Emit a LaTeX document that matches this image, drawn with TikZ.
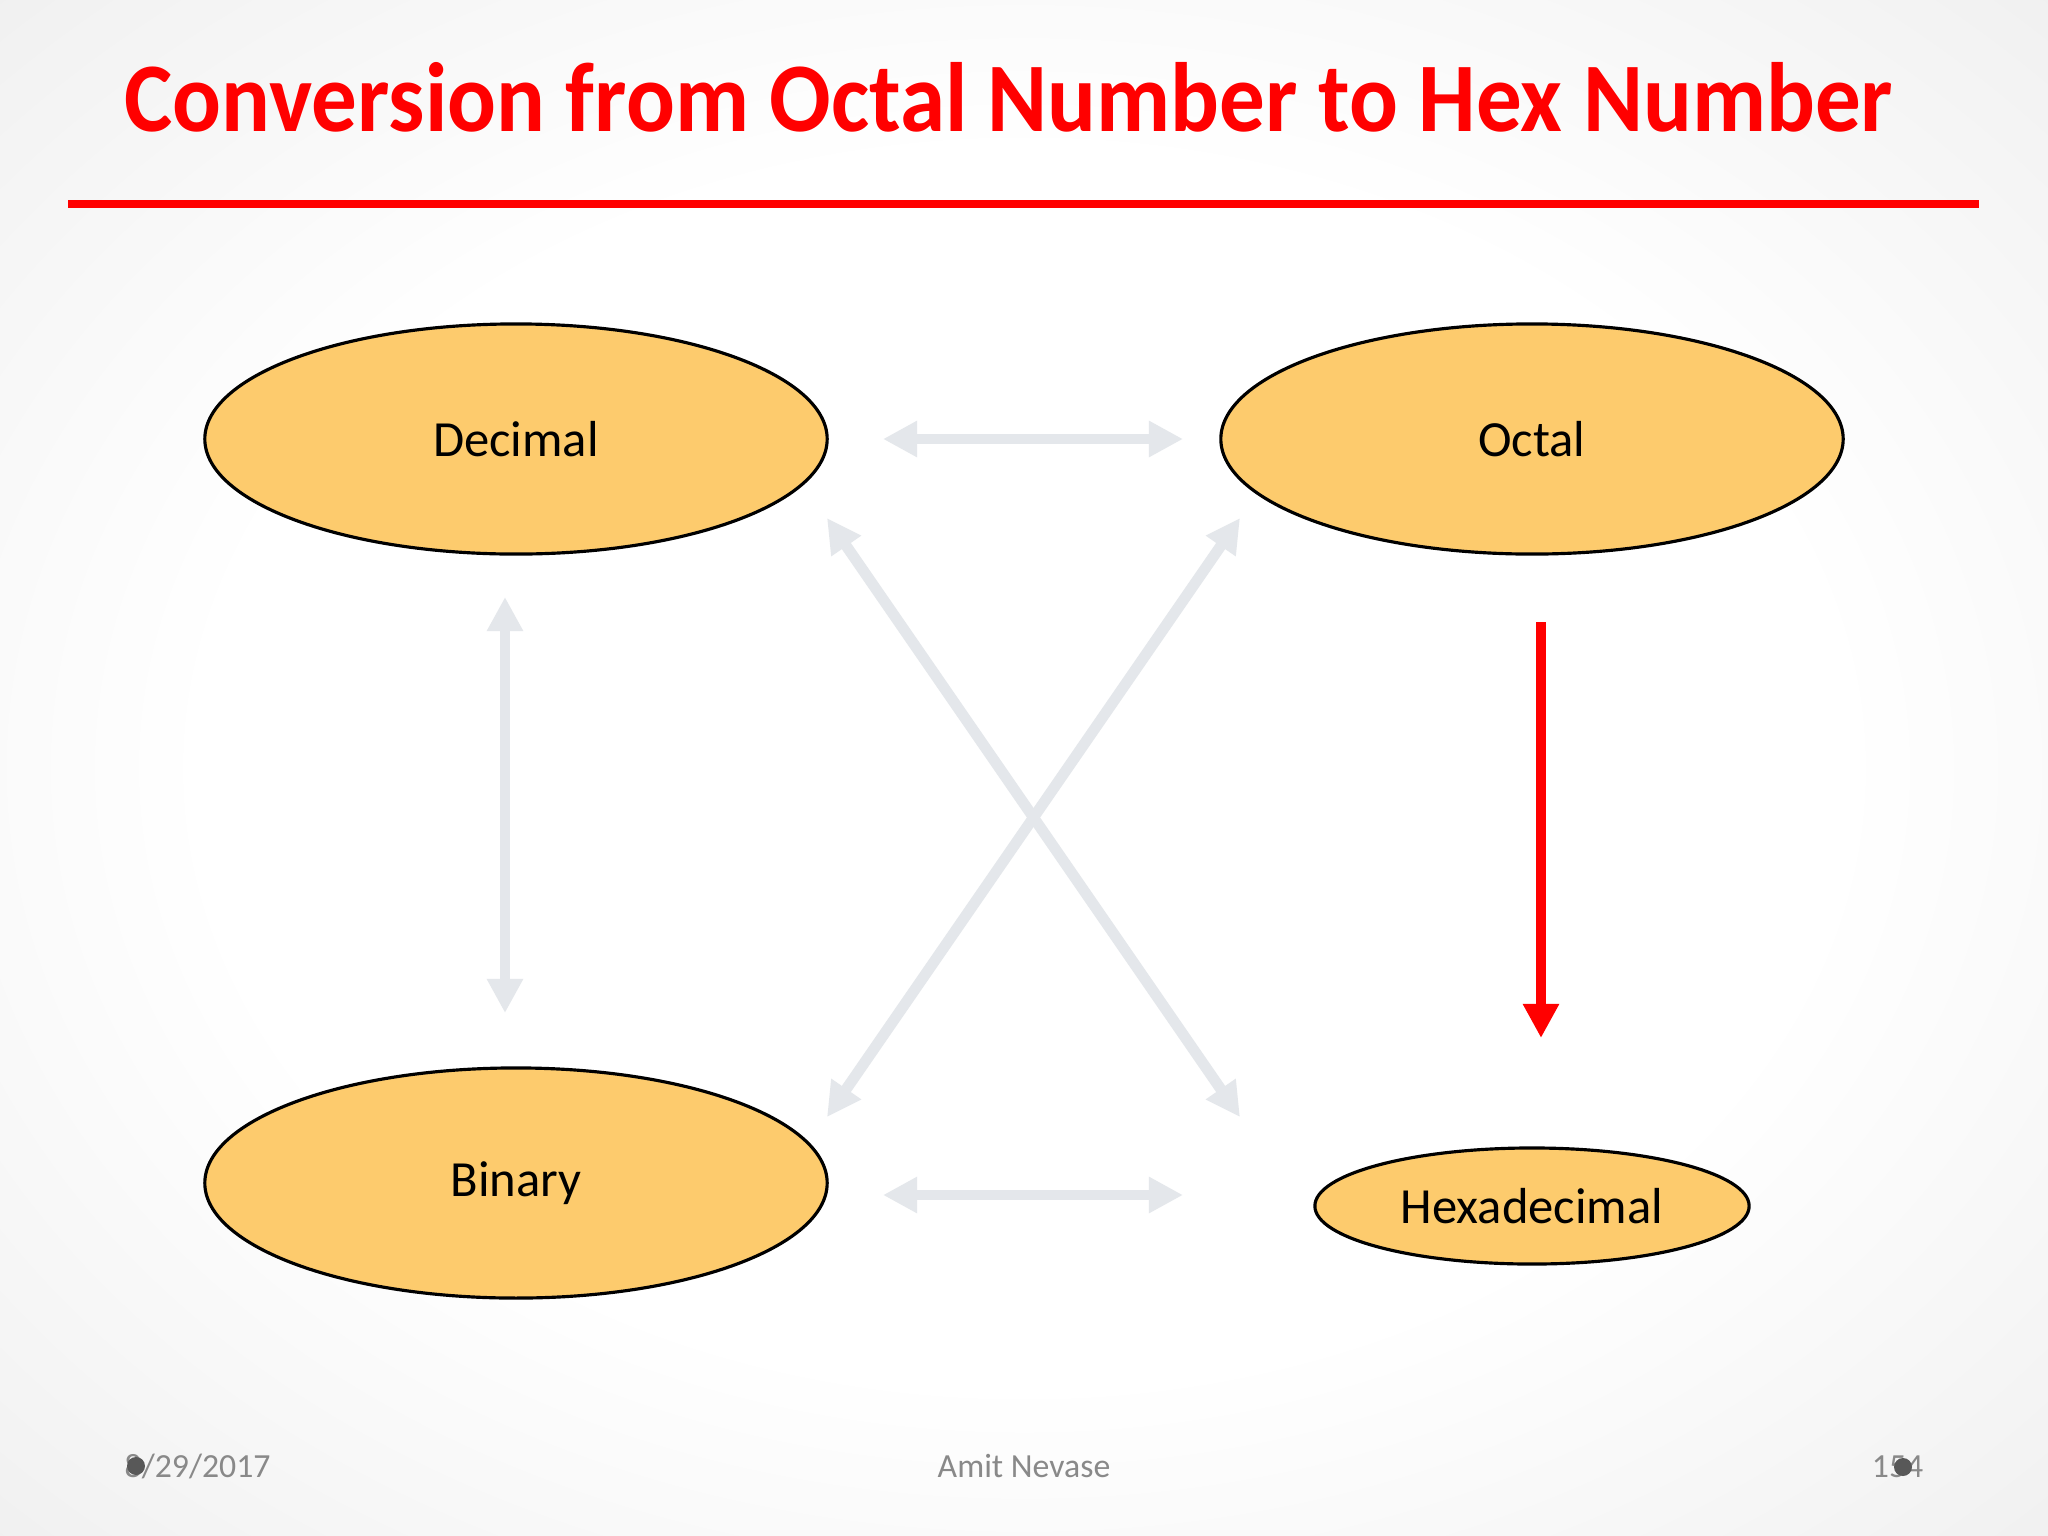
\documentclass[tikz,border=0pt]{standalone}
\usepackage{graphicx}
\usepackage{fontspec}
\setmainfont{Carlito}
\usetikzlibrary{arrows.meta,calc,shapes.geometric}
\definecolor{ovfill}{RGB}{253,203,109}
\definecolor{lgarrow}{RGB}{228,231,235}
\definecolor{ftgray}{RGB}{137,137,137}
\definecolor{bgmid}{RGB}{242,242,242}
\definecolor{bgedge}{RGB}{223,223,223}
\definecolor{bgcorner}{RGB}{205,205,205}
\pgfdeclareradialshading{bgshade}{\pgfpoint{0bp}{0bp}}{color(0bp)=(white); color(20bp)=(white); color(34bp)=(bgmid); color(50bp)=(bgedge); color(72bp)=(bgcorner)}
\tikzset{
  numoval/.style={ellipse, draw=black, line width=0.9pt, fill=ovfill, inner sep=0pt, font=\fontsize{14.4}{17}\selectfont},
  bigoval/.style={numoval, minimum width=6.22cm, minimum height=2.30cm},
  lightarrow/.style={draw=lgarrow, line width=3.1pt, {Triangle[width=0.34cm,length=0.34cm]}-{Triangle[width=0.34cm,length=0.34cm]}},
  redarrow/.style={draw=red, line width=3.1pt, -{Triangle[width=0.34cm,length=0.34cm]}},
  foot/.style={text=ftgray, font=\fontsize{9.6}{11}\selectfont},
  blob/.style={fill={rgb,255:red,88;green,88;blue,88}, draw=none}
}
\begin{document}
\begin{tikzpicture}[x=0.01cm, y=-0.01cm]
\useasboundingbox (0,0) rectangle (2048,1536);
\shade[shading=bgshade] (0,0) rectangle (2048,1536);
% title
\node[anchor=base west, inner sep=0pt, text=red, font=\bfseries\fontsize{28}{32}\selectfont] (title) at (124,131) {\scalebox{0.925}[1]{Conversion from Octal Number to Hex Number}};
\draw[red, line width=0.08cm] (68,204) -- (1979,204);
% nodes
\node[bigoval] (dec) at (516,439) {Decimal};
\node[bigoval] (oct) at (1532,439) {Octal};
\node[bigoval] (bin) at (516,1183) {Binary};
\node[numoval, minimum width=4.34cm, minimum height=1.16cm] (hex) at (1532,1206) {Hexadecimal};
% light connectors
\draw[lightarrow] ($(dec.center)+(367,0)$) -- ($(oct.center)+(-349,0)$);
\draw[lightarrow] ($(bin.center)+(367,12)$) -- ($(bin.center)+(667,12)$);
\draw[lightarrow] ($(dec.center)+(-11,158)$) -- ($(bin.center)+(-11,-170)$);
\draw[lightarrow] ($(dec.center)+(311,79)$) -- ($(hex.center)+(-292,-89)$);
\draw[lightarrow] ($(oct.center)+(-292,79)$) -- ($(bin.center)+(311,-66)$);
% red connector
\draw[redarrow] ($(oct.center)+(9,183)$) -- ($(hex.center)+(9,-168)$);
% footer
\node[foot, anchor=base west, inner sep=0pt] (date) at (124,1477) {8/29/2017};
\node[foot, anchor=base, inner sep=0pt] (auth) at (1024,1477) {Amit Nevase};
\node[foot, anchor=base east, inner sep=0pt] (page) at (1924,1477) {154};
\fill[blob] (136,1466) circle (9);
\fill[blob] (1903,1467) circle (9);
\end{tikzpicture}
\end{document}
